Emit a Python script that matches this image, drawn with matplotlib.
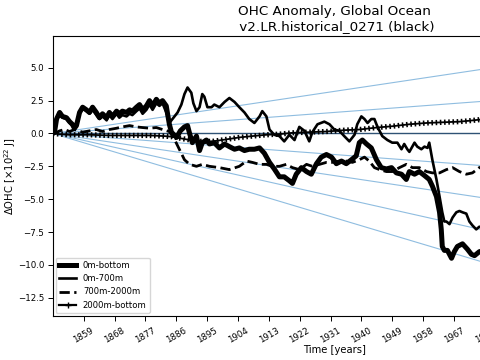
import matplotlib
matplotlib.use("Agg")
import matplotlib.pyplot as plt
from matplotlib.lines import Line2D
import numpy as np

# ---- data (10^22 J) ----
years_0_bottom = [1850.0, 1850.5, 1851.1, 1852.0, 1852.8, 1854.0, 1854.9, 1855.7, 1856.3, 1856.9, 1857.8, 1858.7,
                  1859.8, 1860.7, 1861.6, 1862.7, 1863.6, 1864.5, 1865.7, 1866.5, 1867.4, 1868.6, 1869.4, 1870.3,
                  1871.5, 1872.4, 1873.2, 1874.4, 1875.3, 1876.2, 1877.3, 1878.2, 1879.1, 1880.2, 1881.1, 1882.0,
                  1883.1, 1883.6, 1884.0, 1884.6, 1886.1, 1887.2, 1888.4, 1889.3, 1889.9, 1890.7, 1891.9, 1892.8,
                  1893.6, 1894.8, 1895.7, 1897.1, 1898.6, 1900.1, 1901.5, 1903.0, 1904.4, 1905.9, 1907.3, 1908.8,
                  1910.3, 1911.7, 1913.2, 1914.6, 1916.1, 1917.5, 1919.0, 1919.9, 1921.0, 1922.5, 1924.0, 1925.4,
                  1926.9, 1928.3, 1929.8, 1931.3, 1932.7, 1934.2, 1935.6, 1937.1, 1938.5, 1939.4, 1940.3, 1941.5,
                  1942.9, 1944.4, 1945.8, 1947.3, 1948.8, 1950.2, 1951.7, 1953.1, 1954.0, 1955.5, 1956.9, 1958.4,
                  1959.8, 1960.7, 1961.9, 1962.8, 1963.3, 1963.6, 1964.2, 1965.1, 1966.3, 1967.1, 1968.0, 1969.5,
                  1970.9, 1972.1, 1973.0, 1974.4, 1975.9]
ohc_0_bottom = [0.0, 0.1, 1.1, 1.6, 1.3, 1.2, 0.9, 0.7, 0.4, 0.6, 1.6, 2.0,
                1.8, 1.6, 2.0, 1.6, 1.2, 1.5, 1.2, 1.6, 1.3, 1.7, 1.5, 1.7,
                1.6, 1.8, 1.7, 2.0, 2.2, 1.8, 2.1, 2.5, 2.1, 2.6, 2.3, 2.5,
                2.1, 1.3, 0.7, 0.1, -0.3, 0.2, 0.5, 0.6, 0.0, -0.7, -0.2, -1.3,
                -0.7, -0.5, -0.8, -0.7, -1.1, -0.8, -1.0, -1.2, -1.1, -1.3, -1.2, -1.2,
                -1.1, -1.5, -2.2, -2.7, -3.3, -3.3, -3.6, -3.8, -3.1, -2.6, -2.9, -3.1,
                -2.3, -1.8, -1.6, -1.8, -2.3, -2.1, -2.3, -2.0, -1.7, -0.7, -0.5, -0.8,
                -1.1, -2.0, -2.6, -2.7, -2.6, -3.0, -3.1, -3.5, -2.9, -3.1, -2.9, -3.2,
                -3.5, -4.0, -4.8, -6.0, -7.3, -8.6, -8.9, -8.9, -9.5, -9.0, -8.6, -8.4,
                -8.8, -9.2, -9.3, -9.0, -8.9]

years_0_700 = [1850.0, 1850.5, 1851.1, 1852.0, 1852.8, 1854.0, 1854.9, 1855.7, 1856.3, 1856.9, 1857.8, 1858.7,
               1859.8, 1860.7, 1861.6, 1862.7, 1863.6, 1864.5, 1865.7, 1866.5, 1867.4, 1868.6, 1869.4, 1870.3,
               1871.5, 1872.4, 1873.2, 1874.4, 1875.3, 1876.2, 1877.3, 1878.2, 1879.1, 1880.2, 1881.1, 1882.0,
               1883.1, 1884.0, 1884.9, 1886.4, 1887.5, 1888.4, 1889.3, 1890.4, 1891.0, 1891.9, 1892.8, 1893.6,
               1894.2, 1895.1, 1896.3, 1897.1, 1898.6, 1900.1, 1901.5, 1903.0, 1904.4, 1905.9, 1907.3, 1908.8,
               1910.3, 1911.1, 1912.3, 1913.2, 1914.6, 1916.1, 1917.5, 1919.0, 1920.5, 1921.9, 1923.4, 1924.8,
               1925.7, 1927.2, 1929.2, 1930.7, 1932.1, 1933.6, 1935.0, 1936.5, 1938.0, 1938.8, 1940.0, 1940.9,
               1941.8, 1942.9, 1943.8, 1944.7, 1946.1, 1947.6, 1949.0, 1950.5, 1951.7, 1952.5, 1953.4, 1954.0,
               1955.5, 1956.3, 1957.5, 1958.4, 1959.3, 1959.8, 1960.7, 1961.9, 1962.8, 1963.6, 1964.2, 1964.8,
               1965.7, 1966.6, 1967.7, 1968.6, 1969.5, 1970.6, 1971.5, 1972.4, 1973.5, 1974.4, 1975.9]
ohc_0_700 = [0.0, 0.1, 1.0, 1.5, 1.2, 1.1, 0.8, 0.6, 0.3, 0.5, 1.5, 1.9,
             1.7, 1.5, 1.8, 1.4, 1.1, 1.3, 1.0, 1.4, 1.1, 1.5, 1.2, 1.4,
             1.3, 1.5, 1.4, 1.7, 1.9, 1.5, 1.8, 2.2, 1.8, 2.3, 2.1, 2.3,
             1.6, 0.8, 1.1, 1.6, 2.2, 3.0, 3.5, 3.1, 2.3, 1.7, 2.0, 3.0,
             2.8, 2.0, 2.0, 2.2, 2.0, 2.4, 2.7, 2.4, 2.0, 1.6, 1.1, 0.8,
             1.3, 1.7, 1.3, 0.3, -0.1, -0.2, -0.6, -0.1, -0.5, 0.5, 0.2, -0.6,
             0.1, 0.7, 0.9, 0.7, 0.3, 0.2, -0.2, -0.6, -0.1, 0.7, 1.3, 1.1,
             0.8, 1.1, 1.1, 0.5, -0.2, -0.5, -0.7, -0.7, -1.2, -0.8, -1.2, -1.4,
             -0.7, -1.0, -1.2, -1.0, -1.1, -0.7, -2.0, -3.5, -4.8, -6.0, -6.7, -6.7,
             -6.9, -6.4, -6.0, -5.9, -6.0, -6.1, -6.7, -7.0, -7.3, -7.1, -7.2]

years_700_2000 = [1850.0, 1850.5, 1852.0, 1853.4, 1854.9, 1856.3, 1858.7, 1860.7, 1862.7, 1864.5, 1866.5, 1868.6,
                  1870.3, 1872.4, 1874.4, 1876.2, 1878.2, 1880.2, 1882.0, 1884.0, 1885.5, 1886.9, 1888.4, 1889.9,
                  1891.9, 1893.6, 1895.7, 1898.6, 1901.5, 1904.4, 1906.5, 1908.2, 1910.3, 1912.3, 1914.1, 1916.1,
                  1918.1, 1919.9, 1921.9, 1924.0, 1925.7, 1927.8, 1929.8, 1931.5, 1933.6, 1935.6, 1937.4, 1939.4,
                  1940.9, 1942.3, 1943.8, 1945.3, 1947.3, 1949.0, 1951.1, 1953.1, 1954.9, 1956.9, 1959.0, 1960.7,
                  1962.8, 1964.8, 1966.6, 1968.6, 1970.6, 1972.4, 1974.4, 1975.9]
ohc_700_2000 = [0.0, 0.0, 0.2, 0.3, 0.15, 0.3, 0.1, 0.2, 0.3, 0.15, 0.3, 0.4,
                0.5, 0.6, 0.5, 0.45, 0.4, 0.45, 0.3, 0.15, -0.45, -1.2, -2.0, -2.35,
                -2.5, -2.35, -2.5, -2.6, -2.75, -2.5, -2.1, -2.2, -2.35, -2.35, -2.5, -2.5,
                -2.35, -2.6, -2.75, -2.35, -2.5, -2.35, -2.2, -2.2, -2.1, -2.1, -2.2, -2.0,
                -1.8, -2.1, -2.6, -2.75, -2.9, -2.9, -2.6, -2.35, -2.6, -2.6, -2.9, -3.0,
                -3.0, -2.75, -2.6, -2.9, -3.1, -3.0, -2.6, -2.5]

years_2000_bottom = [1850.0, 1852.0, 1854.9, 1860.7, 1866.5, 1872.4, 1878.2, 1882.6, 1884.9, 1889.0, 1892.8,
                     1896.6, 1900.6, 1904.4, 1908.2, 1912.3, 1916.1, 1919.9, 1924.8, 1929.8, 1935.0, 1939.4,
                     1944.4, 1949.0, 1954.0, 1959.0, 1963.6, 1968.6, 1971.5, 1974.4, 1975.9]
ohc_2000_bottom = [0.0, -0.05, -0.1, -0.1, -0.15, -0.15, -0.15, -0.2, -0.25, -0.45, -0.6,
                   -0.6, -0.45, -0.3, -0.2, -0.1, -0.05, 0.05, 0.1, 0.15, 0.25, 0.3,
                   0.45, 0.55, 0.7, 0.8, 0.85, 0.9, 0.97, 1.05, 1.08]

# reference trend lines: start at 0 in 1850, end values in 2014
ref_start_year = 1850.0
ref_end_year = 2014.0
ref_end_values = [6.4, 3.2, 0.0, -3.2, -6.4, -9.6, -12.8]

xtick_years = list(range(1859, 2015, 9))

# ---- figure ----
fig = plt.figure(figsize=(4.8, 3.6), dpi=100)
ax = fig.add_axes([0.110, 0.122, 1.175, 0.778])

for v in ref_end_values:
    col = "#2f5275" if v == 0 else "#8fbde0"
    lw = 1.0 if v == 0 else 0.8
    ax.plot([ref_start_year, ref_end_year], [0.0, v], color=col, lw=lw, zorder=1)

ax.plot(years_0_bottom, ohc_0_bottom, color="black", lw=3.6, solid_joinstyle="round", zorder=3)
ax.plot(years_0_700, ohc_0_700, color="black", lw=1.9, zorder=3)
ax.plot(years_700_2000, ohc_700_2000, color="black", lw=2.0, ls="--", zorder=3)
ax.plot(years_2000_bottom, ohc_2000_bottom, color="black", lw=1.3, zorder=3)
ax.plot(years_2000_bottom, ohc_2000_bottom, color="black", lw=3.8, dashes=(0.3, 0.5), zorder=3)

ax.set_xlim(1850, 2014.5)
ax.set_ylim(-13.9, 7.42)
ax.set_xticks(xtick_years)
ax.set_xticklabels([str(y) for y in xtick_years], rotation=30, fontsize=6.2)
ax.tick_params(axis="y", labelsize=6.2, pad=2.5)
ax.tick_params(length=3.5, width=0.7)
for s in ax.spines.values():
    s.set_linewidth(0.8)

ax.set_xlabel("Time [years]", fontsize=7.2, labelpad=0)
ax.set_ylabel(r"$\Delta$OHC [$\times 10^{22}$ J]", fontsize=7.2)
ax.yaxis.set_label_coords(-0.062, 0.5)
ax.set_title("OHC Anomaly, Global Ocean\n v2.LR.historical_0271 (black)", fontsize=9.7, pad=4)

handles = [
    Line2D([], [], color="black", lw=3.6),
    Line2D([], [], color="black", lw=1.9),
    Line2D([], [], color="black", lw=2.0, ls="--"),
    Line2D([], [], color="black", lw=1.6, marker="+", markersize=5, markeredgewidth=1.0),
]
labels = ["0m-bottom", "0m-700m", "700m-2000m", "2000m-bottom"]
ax.legend(handles, labels, loc="lower left", fontsize=6.1, borderaxespad=0.35)

fig.savefig("out.png", dpi=100)
